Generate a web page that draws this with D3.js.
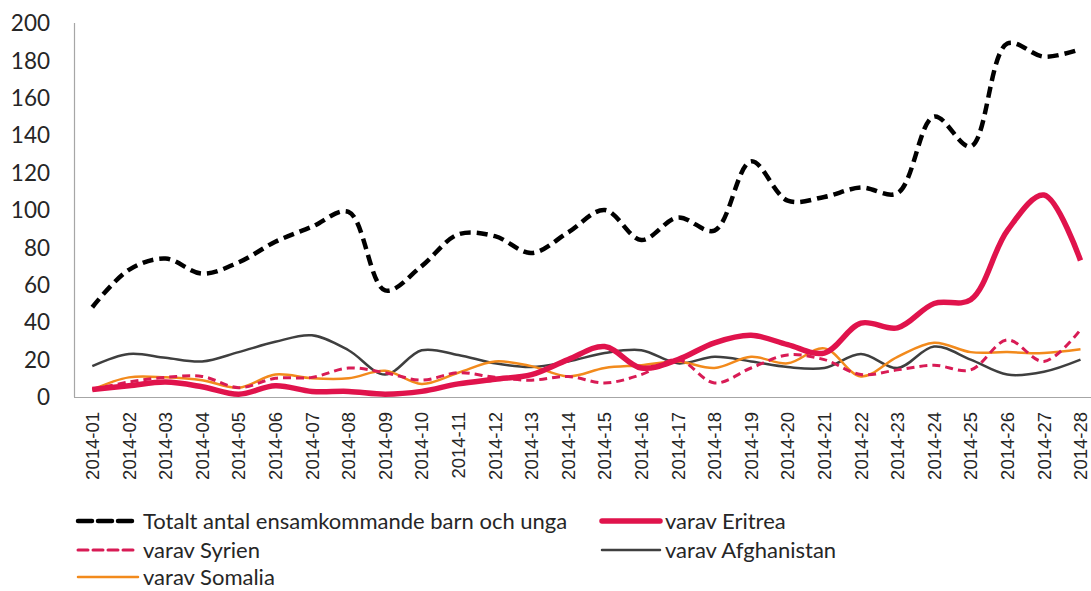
<!DOCTYPE html>
<meta charset="utf-8">
<title>Ensamkommande barn och unga 2014</title>
<head>
  <script src="https://d3js.org/d3.v7.min.js"></script>
  <style>
    body { margin: 0; background: #fff; }
    .ylab { font-family: Lato, sans-serif; font-size: 22.5px; fill: #262626; }
    .xlab { font-family: "Liberation Sans", Arial, sans-serif; font-size: 18.5px; fill: #262626; }
    .leg { font-family: Lato, sans-serif; font-size: 22px; fill: #262626; }
  </style>
</head>
<body>
  <div id="chart"></div>
  <script>
    var weeks = ["2014-01","2014-02","2014-03","2014-04","2014-05","2014-06","2014-07","2014-08","2014-09","2014-10",
      "2014-11","2014-12","2014-13","2014-14","2014-15","2014-16","2014-17","2014-18","2014-19","2014-20",
      "2014-21","2014-22","2014-23","2014-24","2014-25","2014-26","2014-27","2014-28"]

    var totalt      = [48, 68, 74, 66, 72, 83, 91, 99, 57, 70, 87, 86, 77, 88, 100, 84, 96, 89, 126, 105, 107, 112, 109, 150, 134, 189, 182, 186]
    var eritrea     = [4, 6, 8, 5.5, 1.5, 6, 3, 3, 1.5, 3, 7, 9.5, 12, 20, 27, 15.5, 20, 29, 33, 28, 23.5, 39.5, 37, 50, 52, 89, 108, 73]
    var syrien      = [4, 8, 10.5, 11, 5, 10, 10.5, 15.5, 13, 9, 13, 10.5, 9, 11, 7.5, 12, 20, 7.5, 15.5, 22.5, 20, 12, 14.5, 17, 14.5, 30.5, 19, 36]
    var afghanistan = [16.5, 23, 21, 19, 24, 29.5, 33, 25, 12, 25, 22.5, 18, 16, 19, 23.5, 25, 18, 21.5, 19, 16, 15.5, 23, 15.5, 27, 20, 12, 13.5, 20]
    var somalia     = [4, 10.5, 10.5, 9, 5, 12, 10, 10, 14, 7, 13, 19, 16.5, 11, 15.5, 17, 19, 15.5, 21.5, 18, 26, 11, 21.5, 29, 24, 24, 23.5, 25.5]

    var yTicks = [0, 20, 40, 60, 80, 100, 120, 140, 160, 180, 200]

    var width = 1091
    var height = 591

    // draw order: small series first, the total on top
    var series = [
      { name: "varav Afghanistan", values: afghanistan, color: "#3f3f3f", w: 2.5, dash: null },
      { name: "varav Somalia", values: somalia, color: "#f28a1c", w: 2.5, dash: null },
      { name: "varav Syrien", values: syrien, color: "#d81b55", w: 3, dash: "8,5" },
      { name: "varav Eritrea", values: eritrea, color: "#e0134c", w: 5.5, dash: null },
      { name: "Totalt antal ensamkommande barn och unga", values: totalt, color: "#000", w: 4.5, dash: "11,6" }
    ]

    var svg = d3.select("#chart")
      .append("svg")
      .attr("width", width)
      .attr("height", height)

    var x = d3.scaleBand()
      .domain(weeks)
      .range([74, 74 + 28 * 36.6])
      .padding(0)

    var y = d3.scaleLinear()
      .domain([0, 200])
      .range([397, 23])

    function cx(d) { return x(d) + x.bandwidth() / 2 }

    // y labels
    svg.append("g")
      .selectAll("text")
      .data(yTicks)
      .enter().append("text")
      .attr("class", "ylab")
      .attr("x", 50)
      .attr("y", function(d) { return y(d) })
      .attr("dy", "0.36em")
      .attr("text-anchor", "end")
      .text(function(d) { return d })

    // axis lines
    svg.append("line")
      .attr("x1", 74.5).attr("x2", 74.5)
      .attr("y1", y(200)).attr("y2", y(0))
      .attr("stroke", "#a6a6a6").attr("stroke-width", 1.2)
    svg.append("line")
      .attr("x1", 74).attr("x2", width)
      .attr("y1", y(0) + 0.5).attr("y2", y(0) + 0.5)
      .attr("stroke", "#a6a6a6").attr("stroke-width", 1.2)

    // x labels, rotated
    svg.append("g")
      .selectAll("text")
      .data(weeks)
      .enter().append("text")
      .attr("class", "xlab")
      .attr("transform", function(d) { return "translate(" + cx(d) + ",412) rotate(-90)" })
      .attr("dy", "0.36em")
      .attr("text-anchor", "end")
      .text(function(d) { return d })

    var line = d3.line()
      .x(function(d, i) { return cx(weeks[i]) })
      .y(function(d) { return y(d) })
      .curve(d3.curveCatmullRom.alpha(0.5))

    svg.append("g")
      .selectAll("path")
      .data(series)
      .enter().append("path")
      .attr("d", function(d) { return line(d.values) })
      .attr("fill", "none")
      .attr("stroke", function(d) { return d.color })
      .attr("stroke-width", function(d) { return d.w })
      .attr("stroke-dasharray", function(d) { return d.dash })
      .attr("stroke-linejoin", "round")

    // legend
    var legendItems = [
      { s: series[4], lx: 78, ly: 521 },
      { s: series[3], lx: 602, ly: 521 },
      { s: series[2], lx: 78, ly: 550 },
      { s: series[0], lx: 602, ly: 550 },
      { s: series[1], lx: 78, ly: 577 }
    ]

    var leg = svg.append("g")
      .selectAll("g")
      .data(legendItems)
      .enter().append("g")
      .attr("transform", function(d) { return "translate(" + d.lx + "," + d.ly + ")" })

    leg.append("line")
      .attr("x1", 0)
      .attr("x2", function(d) { return d.lx > 300 ? 58 : 60 })
      .attr("y1", 0).attr("y2", 0)
      .attr("stroke", function(d) { return d.s.color })
      .attr("stroke-width", function(d) { return d.s.w })
      .attr("stroke-dasharray", function(d) { return d.s.dash ? (d.s.w > 4 ? "14,6" : "10,5") : null })
      .attr("stroke-linecap", "round")

    leg.append("text")
      .attr("class", "leg")
      .attr("x", function(d) { return d.lx > 300 ? 63 : 65 })
      .attr("y", 0)
      .attr("dy", "0.35em")
      .text(function(d) { return d.s.name })
  </script>
</body>
